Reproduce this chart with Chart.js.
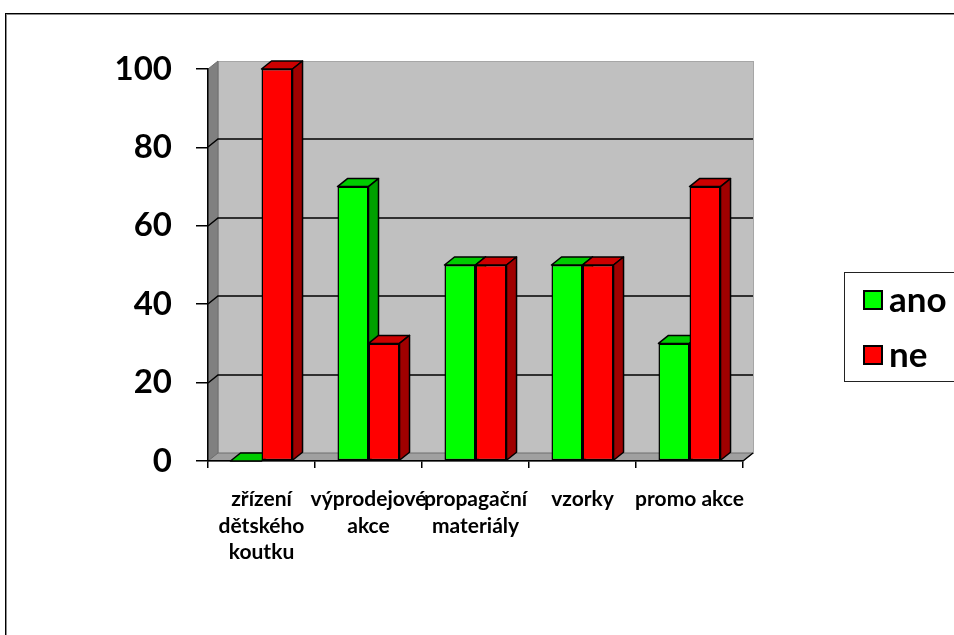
<!DOCTYPE html>
<html>
<head>
<meta charset="utf-8">
<script src="https://cdn.jsdelivr.net/npm/chart.js@4/dist/chart.umd.min.js"></script>
<style>
  html, body { margin: 0; padding: 0; background: #fff; width: 954px; height: 635px; overflow: hidden; }
  #frame { position: absolute; left: 5px; top: 13px; width: 1000px; height: 700px;
           border-left: 1px solid #000; border-top: 1px solid #000;
           box-shadow: inset 1px 1px 0 #8c8c8c; }
  canvas { position: absolute; left: 0; top: 0; }
</style>
</head>
<body>
<div id="frame"></div>
<canvas id="chart" width="954" height="635"></canvas>
<script>
// Survey answers per activity (percent)
const categories = [
  ["zřízení", "dětského", "koutku"],
  ["výprodejové", "akce"],
  ["propagační", "materiály"],
  ["vzorky"],
  ["promo akce"]
];
const seriesNames = ["ano", "ne"];
const anoValues = [0, 70, 50, 50, 30];
const neValues = [100, 30, 50, 50, 70];
const yTicks = [0, 20, 40, 60, 80, 100];

// Face colours for each series: front, top, side
const palette = {
  ano: { front: "#00ff00", top: "#00cc00", side: "#00a000" },
  ne:  { front: "#ff0000", top: "#cc0000", side: "#a00000" }
};

// Depth offset of the pseudo-3D box
const DX = 10, DY = -8;

function poly(ctx, pts, fill, stroke, lw) {
  ctx.beginPath();
  ctx.moveTo(pts[0][0], pts[0][1]);
  for (let i = 1; i < pts.length; i++) ctx.lineTo(pts[i][0], pts[i][1]);
  ctx.closePath();
  if (fill) { ctx.fillStyle = fill; ctx.fill(); }
  if (stroke) { ctx.strokeStyle = stroke; ctx.lineWidth = lw || 1; ctx.stroke(); }
}

const box3d = {
  id: "box3d",
  beforeDraw(chart) {
    const { ctx, chartArea: a, scales: { y } } = chart;
    const L = a.left, R = a.right;
    const B = y.getPixelForValue(yTicks[0]);
    const T = y.getPixelForValue(yTicks[yTicks.length - 1]);
    ctx.save();
    // back wall
    ctx.fillStyle = "#c0c0c0";
    ctx.fillRect(L + DX, T + DY, R - L, B - T);
    ctx.strokeStyle = "#a6a6a6";
    ctx.lineWidth = 1;
    ctx.strokeRect(L + DX + 0.5, T + DY + 0.5, R - L, B - T);
    // left wall
    poly(ctx, [[L, T], [L + DX, T + DY], [L + DX, B + DY], [L, B]], "#808080", "#6e6e6e", 1);
    // floor
    poly(ctx, [[L, B], [L + DX, B + DY], [R + DX, B + DY], [R, B]], "#a0a0a0", "#6e6e6e", 1);
    ctx.beginPath();
    ctx.moveTo(R, B); ctx.lineTo(R + DX, B + DY);
    ctx.strokeStyle = "#000"; ctx.lineWidth = 1.5; ctx.stroke();
    // grid lines running along the left wall and the back wall
    ctx.strokeStyle = "#000";
    ctx.lineWidth = 1.5;
    yTicks.slice(1, -1).forEach(v => {
      const py = Math.round(y.getPixelForValue(v));
      ctx.beginPath();
      ctx.moveTo(L, py);
      ctx.lineTo(L + DX, py + DY);
      ctx.lineTo(R + DX, py + DY);
      ctx.stroke();
    });
    ctx.restore();
  },
  beforeDatasetsDraw(chart) {
    const { ctx } = chart;
    ctx.save();
    ctx.lineJoin = "round";
    chart.data.datasets.forEach((ds, di) => {
      const meta = chart.getDatasetMeta(di);
      const col = palette[ds.label];
      meta.data.forEach(el => {
        const p = el.getProps(["x", "y", "base", "width"], true);
        const l = p.x - p.width / 2, r = p.x + p.width / 2;
        const t = Math.min(p.y, p.base), b = Math.max(p.y, p.base);
        poly(ctx, [[l, t], [l + DX, t + DY], [r + DX, t + DY], [r, t]], col.top, "#000", 1.5);
        if (b - t > 0.5) {
          poly(ctx, [[r, t], [r + DX, t + DY], [r + DX, b + DY], [r, b]], col.side, "#000", 1.5);
        }
      });
    });
    ctx.restore();
  },
  afterDraw(chart) {
    // legend box
    const { ctx } = chart;
    ctx.save();
    ctx.strokeStyle = "#222";
    ctx.lineWidth = 1;
    ctx.strokeRect(844.5, 272.5, 140, 109);
    ctx.font = "bold 35px Lato";
    ctx.textBaseline = "middle";
    ctx.textAlign = "left";
    chart.data.datasets.forEach((ds, i) => {
      const cy = 300 + i * 55;
      ctx.fillStyle = palette[ds.label].front;
      ctx.fillRect(863, cy - 10, 20, 20);
      ctx.lineWidth = 2;
      ctx.strokeStyle = "#000";
      ctx.strokeRect(864, cy - 9, 18, 18);
      ctx.fillStyle = "#000";
      ctx.fillText(ds.label, 889, cy + 1);
    });
    ctx.restore();
  }
};

new Chart(document.getElementById("chart"), {
  type: "bar",
  data: {
    labels: categories,
    datasets: [
      { label: seriesNames[0], data: anoValues, backgroundColor: palette.ano.front },
      { label: seriesNames[1], data: neValues, backgroundColor: palette.ne.front }
    ]
  },
  options: {
    responsive: false,
    animation: false,
    devicePixelRatio: 1,
    layout: { padding: { top: 69, right: 211, left: 0, bottom: 0 } },
    datasets: {
      bar: {
        borderColor: "#000",
        borderWidth: 1.5,
        borderSkipped: false,
        barPercentage: 1.0,
        categoryPercentage: 0.58
      }
    },
    plugins: { legend: { display: false }, tooltip: { enabled: false } },
    scales: {
      x: {
        offset: true,
        afterFit(s) { s.height = 174; },
        grid: { display: true, offset: true, drawOnChartArea: false, drawTicks: true, tickLength: 7, color: "#000", lineWidth: 1.5 },
        border: { display: true, color: "#000", width: 1.5 },
        ticks: {
          color: "#000",
          font: { family: "Lato", weight: "bold", size: 21, lineHeight: 1.27 },
          padding: 18,
          maxRotation: 0,
          autoSkip: false
        }
      },
      y: {
        min: yTicks[0],
        max: yTicks[yTicks.length - 1],
        afterFit(s) { s.width = 208; },
        afterBuildTicks(s) { s.ticks = yTicks.map(v => ({ value: v })); },
        grid: { display: true, drawOnChartArea: false, drawTicks: true, tickLength: 12, color: "#000", lineWidth: 1.5 },
        border: { display: true, color: "#000", width: 1.5 },
        ticks: {
          color: "#000",
          font: { family: "Lato", weight: "bold", size: 33 },
          padding: 24
        }
      }
    }
  },
  plugins: [box3d]
});
</script>
</body>
</html>
